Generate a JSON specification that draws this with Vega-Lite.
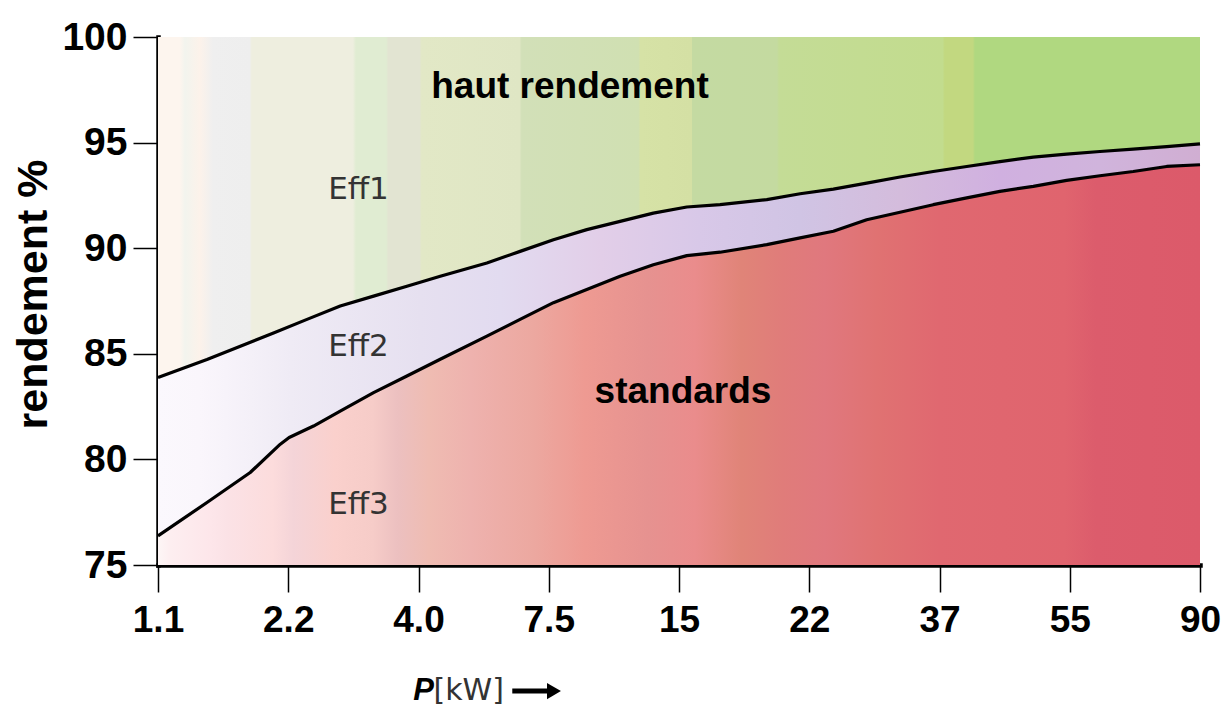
{
  "$schema": "https://vega.github.io/schema/vega-lite/v6.json",
  "width": 1042,
  "height": 528,
  "autosize": "none",
  "padding": {"left": 158, "top": 37, "right": 31, "bottom": 143},
  "background": "white",
  "config": {"view": {"stroke": null}},
  "datasets": {
    "curves": [
      {"pos": 0, "curve": "Eff1/Eff2", "rendement": 83.88},
      {"pos": 0.12, "curve": "Eff1/Eff2", "rendement": 84.15},
      {"pos": 0.376, "curve": "Eff1/Eff2", "rendement": 84.73},
      {"pos": 0.632, "curve": "Eff1/Eff2", "rendement": 85.36},
      {"pos": 0.887, "curve": "Eff1/Eff2", "rendement": 85.99},
      {"pos": 1.144, "curve": "Eff1/Eff2", "rendement": 86.63},
      {"pos": 1.399, "curve": "Eff1/Eff2", "rendement": 87.26},
      {"pos": 1.655, "curve": "Eff1/Eff2", "rendement": 87.73},
      {"pos": 1.911, "curve": "Eff1/Eff2", "rendement": 88.2},
      {"pos": 2.167, "curve": "Eff1/Eff2", "rendement": 88.67},
      {"pos": 2.525, "curve": "Eff1/Eff2", "rendement": 89.3},
      {"pos": 2.78, "curve": "Eff1/Eff2", "rendement": 89.85},
      {"pos": 3.036, "curve": "Eff1/Eff2", "rendement": 90.4},
      {"pos": 3.292, "curve": "Eff1/Eff2", "rendement": 90.88},
      {"pos": 3.548, "curve": "Eff1/Eff2", "rendement": 91.27},
      {"pos": 3.803, "curve": "Eff1/Eff2", "rendement": 91.66},
      {"pos": 4.06, "curve": "Eff1/Eff2", "rendement": 91.95},
      {"pos": 4.315, "curve": "Eff1/Eff2", "rendement": 92.06},
      {"pos": 4.674, "curve": "Eff1/Eff2", "rendement": 92.3},
      {"pos": 4.93, "curve": "Eff1/Eff2", "rendement": 92.58},
      {"pos": 5.185, "curve": "Eff1/Eff2", "rendement": 92.8},
      {"pos": 5.441, "curve": "Eff1/Eff2", "rendement": 93.08},
      {"pos": 5.697, "curve": "Eff1/Eff2", "rendement": 93.37},
      {"pos": 5.952, "curve": "Eff1/Eff2", "rendement": 93.63},
      {"pos": 6.209, "curve": "Eff1/Eff2", "rendement": 93.87},
      {"pos": 6.464, "curve": "Eff1/Eff2", "rendement": 94.1},
      {"pos": 6.72, "curve": "Eff1/Eff2", "rendement": 94.31},
      {"pos": 6.976, "curve": "Eff1/Eff2", "rendement": 94.45},
      {"pos": 7.232, "curve": "Eff1/Eff2", "rendement": 94.58},
      {"pos": 7.487, "curve": "Eff1/Eff2", "rendement": 94.69},
      {"pos": 7.744, "curve": "Eff1/Eff2", "rendement": 94.81},
      {"pos": 8, "curve": "Eff1/Eff2", "rendement": 94.94},
      {"pos": 0, "curve": "Eff2/Eff3", "rendement": 76.38},
      {"pos": 0.376, "curve": "Eff2/Eff3", "rendement": 77.96},
      {"pos": 0.708, "curve": "Eff2/Eff3", "rendement": 79.38},
      {"pos": 0.939, "curve": "Eff2/Eff3", "rendement": 80.72},
      {"pos": 1.007, "curve": "Eff2/Eff3", "rendement": 81.04},
      {"pos": 1.194, "curve": "Eff2/Eff3", "rendement": 81.58},
      {"pos": 1.399, "curve": "Eff2/Eff3", "rendement": 82.29},
      {"pos": 1.655, "curve": "Eff2/Eff3", "rendement": 83.16},
      {"pos": 1.911, "curve": "Eff2/Eff3", "rendement": 83.95},
      {"pos": 2.167, "curve": "Eff2/Eff3", "rendement": 84.74},
      {"pos": 2.525, "curve": "Eff2/Eff3", "rendement": 85.84},
      {"pos": 2.78, "curve": "Eff2/Eff3", "rendement": 86.63},
      {"pos": 3.036, "curve": "Eff2/Eff3", "rendement": 87.42},
      {"pos": 3.292, "curve": "Eff2/Eff3", "rendement": 88.04},
      {"pos": 3.548, "curve": "Eff2/Eff3", "rendement": 88.67},
      {"pos": 3.803, "curve": "Eff2/Eff3", "rendement": 89.22},
      {"pos": 4.06, "curve": "Eff2/Eff3", "rendement": 89.65},
      {"pos": 4.315, "curve": "Eff2/Eff3", "rendement": 89.81},
      {"pos": 4.674, "curve": "Eff2/Eff3", "rendement": 90.17},
      {"pos": 4.93, "curve": "Eff2/Eff3", "rendement": 90.49},
      {"pos": 5.185, "curve": "Eff2/Eff3", "rendement": 90.8},
      {"pos": 5.441, "curve": "Eff2/Eff3", "rendement": 91.35},
      {"pos": 5.697, "curve": "Eff2/Eff3", "rendement": 91.7},
      {"pos": 5.952, "curve": "Eff2/Eff3", "rendement": 92.06},
      {"pos": 6.209, "curve": "Eff2/Eff3", "rendement": 92.38},
      {"pos": 6.464, "curve": "Eff2/Eff3", "rendement": 92.69},
      {"pos": 6.72, "curve": "Eff2/Eff3", "rendement": 92.93},
      {"pos": 6.976, "curve": "Eff2/Eff3", "rendement": 93.21},
      {"pos": 7.232, "curve": "Eff2/Eff3", "rendement": 93.43},
      {"pos": 7.487, "curve": "Eff2/Eff3", "rendement": 93.63},
      {"pos": 7.744, "curve": "Eff2/Eff3", "rendement": 93.87},
      {"pos": 8, "curve": "Eff2/Eff3", "rendement": 93.95}
    ]
  },
  "layer": [
    {
      "data": {"name": "curves"},
      "encoding": {
        "x": {
          "field": "pos",
          "type": "quantitative",
          "scale": {"domain": [0, 8], "nice": false, "zero": false},
          "axis": {
            "values": [0, 1, 2, 3, 4, 5, 6, 7, 8],
            "labelExpr": "['1.1','2.2','4.0','7.5','15','22','37','55','90'][datum.value]",
            "title": null,
            "grid": false,
            "domainColor": "black",
            "domainWidth": 4.5,
            "domainCap": "square",
            "tickColor": "black",
            "tickWidth": 1.5,
            "tickSize": 27,
            "labelFont": "Liberation Sans",
            "labelFontWeight": "bold",
            "labelFontSize": 37,
            "labelColor": "black",
            "labelPadding": 10,
            "labelFlush": false,
            "labelOverlap": false
          }
        },
        "y": {
          "field": "rendement",
          "type": "quantitative",
          "scale": {"domain": [75, 100], "nice": false, "zero": false},
          "axis": {
            "values": [75, 80, 85, 90, 95, 100],
            "title": "rendement %",
            "titleFont": "Liberation Sans",
            "titleFontWeight": "bold",
            "titleFontSize": 43,
            "titleColor": "black",
            "titlePadding": 6,
            "titleY": 257,
            "grid": false,
            "domainColor": "black",
            "domainWidth": 4.5,
            "domainCap": "square",
            "tickColor": "black",
            "tickWidth": 1.5,
            "tickSize": 25,
            "labelFont": "Liberation Sans",
            "labelFontWeight": "bold",
            "labelFontSize": 39,
            "labelColor": "black",
            "labelPadding": 6,
            "labelBaseline": "middle",
            "labelFlush": false,
            "labelOverlap": false
          }
        }
      },
      "layer": [
        {
          "transform": [{"filter": "datum.curve === 'Eff1/Eff2'"}],
          "mark": {
            "type": "area",
            "interpolate": "linear",
            "fill": {
              "gradient": "linear", "x1": 0, "y1": 0, "x2": 1, "y2": 0,
              "stops": [
                {"offset": 0, "color": "#fbf8fd"},
                {"offset": 0.04, "color": "#faf6fc"},
                {"offset": 0.09, "color": "#f4f0f8"},
                {"offset": 0.127, "color": "#efebf5"},
                {"offset": 0.252, "color": "#e6e0f0"},
                {"offset": 0.329, "color": "#e2dbf0"},
                {"offset": 0.425, "color": "#e2cee8"},
                {"offset": 0.52, "color": "#d8c8e8"},
                {"offset": 0.616, "color": "#d0c4e4"},
                {"offset": 0.712, "color": "#d4bcdc"},
                {"offset": 0.808, "color": "#d0b0e0"},
                {"offset": 0.904, "color": "#d0b4dc"},
                {"offset": 1, "color": "#d0aed2"}
              ]
            }
          },
          "encoding": {"y2": {"datum": 75}}
        },
        {
          "transform": [{"filter": "datum.curve === 'Eff2/Eff3'"}],
          "mark": {
            "type": "area",
            "interpolate": "linear",
            "fill": {
              "gradient": "linear", "x1": 0, "y1": 0, "x2": 1, "y2": 0,
              "stops": [
                {"offset": 0, "color": "#fdf6f6"},
                {"offset": 0.012, "color": "#fdeef0"},
                {"offset": 0.05, "color": "#fde6ea"},
                {"offset": 0.066, "color": "#fbe2e6"},
                {"offset": 0.11, "color": "#fcdcdc"},
                {"offset": 0.13, "color": "#f4d4d8"},
                {"offset": 0.17, "color": "#fad0cc"},
                {"offset": 0.206, "color": "#f6ccc8"},
                {"offset": 0.23, "color": "#ecc0c0"},
                {"offset": 0.26, "color": "#efbcb2"},
                {"offset": 0.3, "color": "#eeb2ae"},
                {"offset": 0.36, "color": "#eca8a0"},
                {"offset": 0.41, "color": "#ee9a92"},
                {"offset": 0.47, "color": "#e69290"},
                {"offset": 0.515, "color": "#ea8c8c"},
                {"offset": 0.56, "color": "#e08478"},
                {"offset": 0.6, "color": "#e07c7a"},
                {"offset": 0.64, "color": "#e0787e"},
                {"offset": 0.69, "color": "#e07272"},
                {"offset": 0.75, "color": "#e06870"},
                {"offset": 0.87, "color": "#e0646e"},
                {"offset": 0.9, "color": "#dc5c6c"},
                {"offset": 1, "color": "#dc5a6a"}
              ]
            }
          },
          "encoding": {"y2": {"datum": 75}}
        },
        {
          "transform": [{"filter": "datum.curve === 'Eff1/Eff2'"}],
          "mark": {
            "type": "area",
            "interpolate": "linear",
            "fill": {
              "gradient": "linear", "x1": 0, "y1": 0, "x2": 1, "y2": 0,
              "stops": [
                {"offset": 0, "color": "#fdf5ee"},
                {"offset": 0.021, "color": "#fdf5ee"},
                {"offset": 0.026, "color": "#f2f4ee"},
                {"offset": 0.04, "color": "#fcf2ea"},
                {"offset": 0.053, "color": "#efefef"},
                {"offset": 0.088, "color": "#eeeeee"},
                {"offset": 0.09, "color": "#eeeedf"},
                {"offset": 0.187, "color": "#eeeedf"},
                {"offset": 0.19, "color": "#e0ecd2"},
                {"offset": 0.219, "color": "#e0ecd2"},
                {"offset": 0.221, "color": "#e2e4d2"},
                {"offset": 0.251, "color": "#e2e4d2"},
                {"offset": 0.253, "color": "#e2e8c6"},
                {"offset": 0.347, "color": "#dfe6c4"},
                {"offset": 0.349, "color": "#d2e0b8"},
                {"offset": 0.461, "color": "#d0e0b2"},
                {"offset": 0.463, "color": "#d6e2a6"},
                {"offset": 0.512, "color": "#d4e0a4"},
                {"offset": 0.513, "color": "#c4daa2"},
                {"offset": 0.594, "color": "#c4daa0"},
                {"offset": 0.596, "color": "#c4dc96"},
                {"offset": 0.753, "color": "#c2dc8e"},
                {"offset": 0.755, "color": "#c2d880"},
                {"offset": 0.782, "color": "#c2d880"},
                {"offset": 0.784, "color": "#b0d880"},
                {"offset": 1, "color": "#b0d880"}
              ]
            }
          },
          "encoding": {"y2": {"datum": 100}}
        },
        {
          "mark": {"type": "line", "interpolate": "linear", "color": "black", "strokeWidth": 3.2, "strokeJoin": "round"},
          "encoding": {"detail": {"field": "curve"}}
        }
      ]
    },
    {
      "data": {"values": [{}]},
      "mark": {"type": "text", "text": "haut rendement", "font": "Liberation Sans", "fontWeight": "bold", "fontSize": 37, "color": "black", "align": "center", "baseline": "middle"},
      "encoding": {"x": {"datum": 3.163, "type": "quantitative"}, "y": {"datum": 97.63, "type": "quantitative"}}
    },
    {
      "data": {"values": [{}]},
      "mark": {"type": "text", "text": "standards", "font": "Liberation Sans", "fontWeight": "bold", "fontSize": 37, "color": "black", "align": "center", "baseline": "middle"},
      "encoding": {"x": {"datum": 4.031, "type": "quantitative"}, "y": {"datum": 83.19, "type": "quantitative"}}
    },
    {
      "data": {"values": [{}]},
      "mark": {"type": "text", "text": "Eff1", "font": "DejaVu Sans", "fontSize": 31, "color": "#333333", "align": "center", "baseline": "middle"},
      "encoding": {"x": {"datum": 1.539, "type": "quantitative"}, "y": {"datum": 92.76, "type": "quantitative"}}
    },
    {
      "data": {"values": [{}]},
      "mark": {"type": "text", "text": "Eff2", "font": "DejaVu Sans", "fontSize": 31, "color": "#333333", "align": "center", "baseline": "middle"},
      "encoding": {"x": {"datum": 1.539, "type": "quantitative"}, "y": {"datum": 85.32, "type": "quantitative"}}
    },
    {
      "data": {"values": [{}]},
      "mark": {"type": "text", "text": "Eff3", "font": "DejaVu Sans", "fontSize": 31, "color": "#333333", "align": "center", "baseline": "middle"},
      "encoding": {"x": {"datum": 1.539, "type": "quantitative"}, "y": {"datum": 77.84, "type": "quantitative"}}
    },
    {
      "data": {"values": [{}]},
      "mark": {"type": "text", "text": "P", "font": "Liberation Sans", "fontWeight": "bold", "fontStyle": "italic", "fontSize": 31, "color": "black", "align": "left", "baseline": "middle"},
      "encoding": {"x": {"datum": 1.96, "type": "quantitative"}, "y": {"datum": 69.03, "type": "quantitative"}}
    },
    {
      "data": {"values": [{}]},
      "mark": {"type": "text", "text": "[kW]", "font": "DejaVu Sans", "fontSize": 30, "color": "#333333", "align": "left", "baseline": "middle"},
      "encoding": {"x": {"datum": 2.115, "type": "quantitative"}, "y": {"datum": 69.03, "type": "quantitative"}}
    },
    {
      "data": {"values": [{}]},
      "mark": {"type": "rule", "color": "black", "strokeWidth": 5},
      "encoding": {"x": {"datum": 2.72, "type": "quantitative"}, "x2": {"datum": 3.0}, "y": {"datum": 69.03, "type": "quantitative"}}
    },
    {
      "data": {"values": [{}]},
      "mark": {"type": "point", "shape": "triangle-right", "filled": true, "color": "black", "size": 260, "opacity": 1},
      "encoding": {"x": {"datum": 3.04, "type": "quantitative"}, "y": {"datum": 69.03, "type": "quantitative"}}
    }
  ]
}
